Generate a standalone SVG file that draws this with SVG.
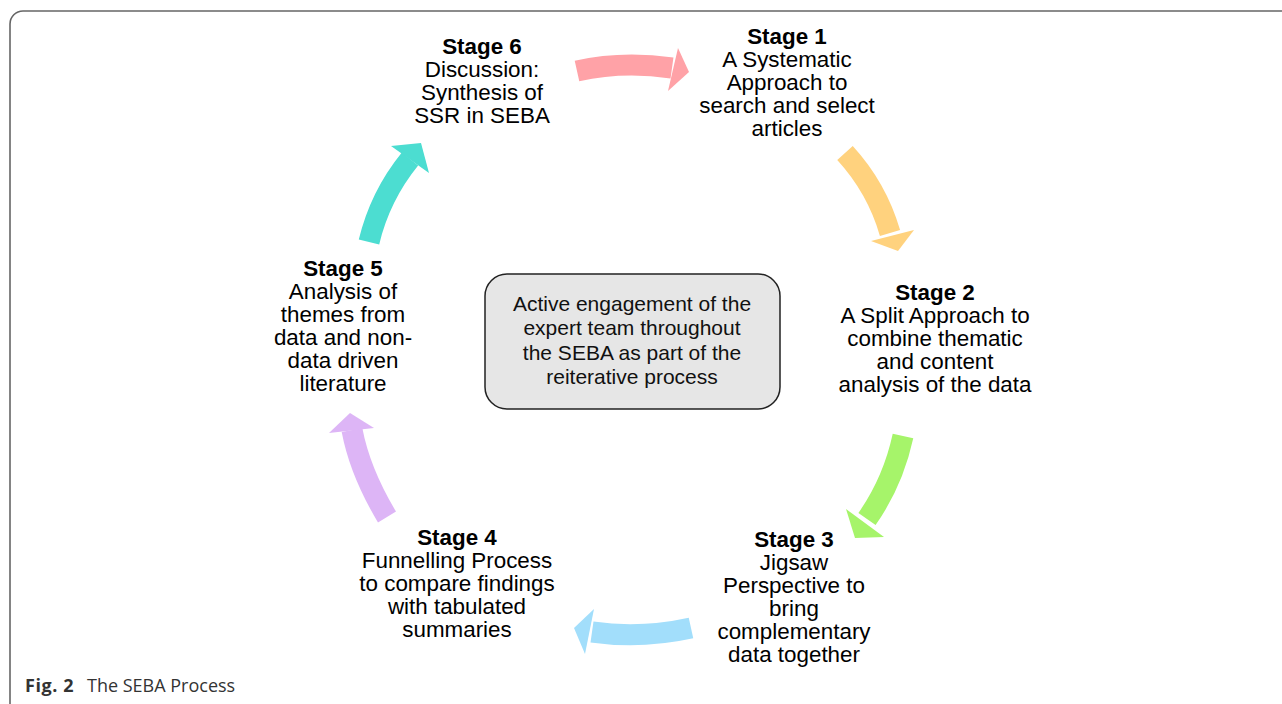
<svg xmlns="http://www.w3.org/2000/svg" width="1282" height="704" viewBox="0 0 1282 704">
<style>
  .t { font-family: "Liberation Sans", Arial, sans-serif; font-size: 22.4px; fill: #000; text-anchor: middle; }
  .b { font-weight: bold; }
  .c { font-family: "Liberation Sans", Arial, sans-serif; font-size: 21px; fill: #111; text-anchor: middle; }
  .body { fill: none; stroke-width: 21; stroke-linecap: butt; }
  .cap { font-family: "Open Sans", "Liberation Sans", sans-serif; font-size: 18px; fill: #333; }
</style>
<rect width="1282" height="704" fill="#fff"/>
<path d="M10,704 V24 A13,13 0 0 1 23,11 H1282" fill="none" stroke="#666" stroke-width="1.6"/>

<g id="connectors">
  <g id="a6to1" fill="#FFA2A7" stroke="#FFA2A7">
    <path class="body" d="M577,71 Q622,61 672,68"/>
    <polygon points="678,48 689,72 668,91" stroke="none"/>
  </g>
  <g id="a1to2" fill="#FFD27E" stroke="#FFD27E">
    <path class="body" d="M845,153 Q877,188 890,233"/>
    <polygon points="871,241 914,230 898,251" stroke="none"/>
  </g>
  <g id="a2to3" fill="#A6F46A" stroke="#A6F46A">
    <path class="body" d="M903,436 Q893,482 867,519"/>
    <polygon points="846,509 884,537 855,538" stroke="none"/>
  </g>
  <g id="a3to4" fill="#A2DEFB" stroke="#A2DEFB">
    <path class="body" d="M691,628 Q641,639 592,632"/>
    <polygon points="574,628 594,609 585,654" stroke="none"/>
  </g>
  <g id="a4to5" fill="#DDB5F6" stroke="#DDB5F6">
    <path class="body" d="M387,517 Q360,472 352,430"/>
    <polygon points="350,413 374,428 329,433" stroke="none"/>
  </g>
  <g id="a5to6" fill="#4CDDD1" stroke="#4CDDD1">
    <path class="body" d="M369,242 Q380,196 410,159"/>
    <polygon points="391,146 421,143 429,173" stroke="none"/>
  </g>
</g>

<g id="stage6">
  <text class="t b" x="482" y="54">Stage 6</text>
  <text class="t" x="482" y="77">Discussion:</text>
  <text class="t" x="482" y="100">Synthesis of</text>
  <text class="t" x="482" y="123">SSR in SEBA</text>
</g>
<g id="stage1">
  <text class="t b" x="787" y="44">Stage 1</text>
  <text class="t" x="787" y="67">A Systematic</text>
  <text class="t" x="787" y="90">Approach to</text>
  <text class="t" x="787" y="113">search and select</text>
  <text class="t" x="787" y="136">articles</text>
</g>
<g id="stage2">
  <text class="t b" x="935" y="300">Stage 2</text>
  <text class="t" x="935" y="323">A Split Approach to</text>
  <text class="t" x="935" y="346">combine thematic</text>
  <text class="t" x="935" y="369">and content</text>
  <text class="t" x="935" y="392">analysis of the data</text>
</g>
<g id="stage3">
  <text class="t b" x="794" y="547">Stage 3</text>
  <text class="t" x="794" y="570">Jigsaw</text>
  <text class="t" x="794" y="593">Perspective to</text>
  <text class="t" x="794" y="616">bring</text>
  <text class="t" x="794" y="639">complementary</text>
  <text class="t" x="794" y="662">data together</text>
</g>
<g id="stage4">
  <text class="t b" x="457" y="545">Stage 4</text>
  <text class="t" x="457" y="568">Funnelling Process</text>
  <text class="t" x="457" y="591">to compare findings</text>
  <text class="t" x="457" y="614">with tabulated</text>
  <text class="t" x="457" y="637">summaries</text>
</g>
<g id="stage5">
  <text class="t b" x="343" y="276">Stage 5</text>
  <text class="t" x="343" y="299">Analysis of</text>
  <text class="t" x="343" y="322">themes from</text>
  <text class="t" x="343" y="345">data and non-</text>
  <text class="t" x="343" y="368">data driven</text>
  <text class="t" x="343" y="391">literature</text>
</g>
<g id="center">
  <rect x="485" y="274" width="295" height="135" rx="22" fill="#E6E6E6" stroke="#222" stroke-width="1.5"/>
  <text class="c" x="632" y="311">Active engagement of the</text>
  <text class="c" x="632" y="335">expert team throughout</text>
  <text class="c" x="632" y="360">the SEBA as part of the</text>
  <text class="c" x="632" y="384">reiterative process</text>
</g>
<text class="cap" x="25" y="692"><tspan font-weight="bold" letter-spacing="0.6">Fig. 2</tspan><tspan x="87">The SEBA Process</tspan></text>
</svg>
